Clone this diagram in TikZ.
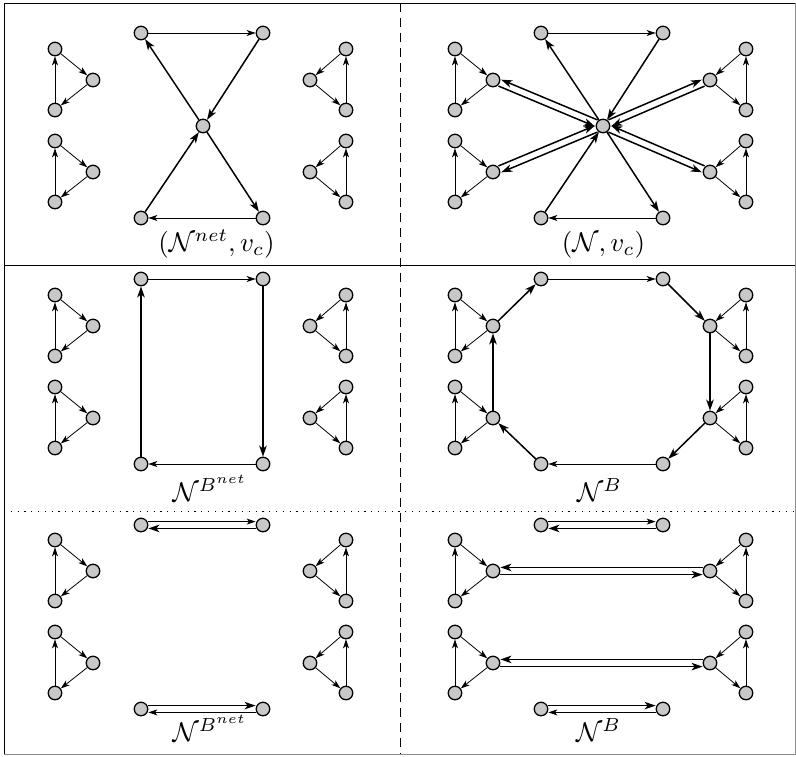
\documentclass[tikz,border=0pt]{standalone}
\usetikzlibrary{arrows.meta}
\begin{document}
\begin{tikzpicture}[
  x=1pt, y=-1pt,
  vtx/.style={circle, draw=black, line width=1.3pt, fill={rgb,255:red,200;green,200;blue,200}, inner sep=0pt, minimum size=13.5pt},
  thinarr/.style={line width=0.8pt, -{Stealth[length=9pt,width=6pt,inset=2.5pt]}},
  thickarr/.style={line width=1.5pt, -{Stealth[length=11pt,width=7.5pt,inset=3pt]}},
  lab/.style={anchor=base, inner sep=0pt},
  lefttri/.pic={
    \node[vtx] (-t) at (0,0) {};
    \node[vtx] (-r) at (38,31) {};
    \node[vtx] (-b) at (0,61) {};
    \draw[thinarr] (-b) -- (-t);
    \draw[thinarr] (-t) -- (-r);
    \draw[thinarr] (-r) -- (-b);
  },
  righttri/.pic={
    \node[vtx] (-t) at (0,0) {};
    \node[vtx] (-l) at (-36,31) {};
    \node[vtx] (-b) at (0,61) {};
    \draw[thinarr] (-b) -- (-t);
    \draw[thinarr] (-t) -- (-l);
    \draw[thinarr] (-l) -- (-b);
  },
  tris/.pic={
    \pic (-L1) at (55,49) {lefttri};
    \pic (-L2) at (55,141) {lefttri};
    \pic (-R1) at (346,49) {righttri};
    \pic (-R2) at (346,141) {righttri};
  }
]
\useasboundingbox (0,0) rectangle (796,756);

% frame
\draw[line width=1pt] (4,3) -- (795,3);
\draw[line width=1pt] (4,3) -- (4,754);
\draw[line width=1pt, black!45] (4,754) -- (795,754) -- (795,3);
\draw[line width=0.9pt] (4,265) -- (795,265);
\draw[line width=0.9pt, dash pattern=on 1.2pt off 5.6pt] (4,511) -- (795,511);
\draw[line width=0.9pt, dash pattern=on 9pt off 6pt] (400,3) -- (400,754);

% ---------- Panel A ----------
\begin{scope}[name prefix=a-]
  \pic (T) at (0,0) {tris};
  \node[vtx] (tl) at (141,33) {};
  \node[vtx] (tr) at (263,33) {};
  \node[vtx] (c)  at (203,126) {};
  \node[vtx] (bl) at (141,218) {};
  \node[vtx] (br) at (263,218) {};
  \draw[thinarr] (tl) -- (tr);
  \draw[thickarr] (tr) -- (c);
  \draw[thickarr] (c) -- (tl);
  \draw[thickarr] (bl) -- (c);
  \draw[thickarr] (c) -- (br);
  \draw[thinarr] (br) -- (bl);
  \node[lab] (lab) at (216.5,251) {\scalebox{2.7}{$(\mathcal{N}^{net},v_c)$}};
\end{scope}

% ---------- Panel B ----------
\begin{scope}[shift={(400,0)}, name prefix=b-]
  \pic (T) at (0,0) {tris};
  \node[vtx] (tl) at (141,33) {};
  \node[vtx] (tr) at (263,33) {};
  \node[vtx] (c)  at (203,126) {};
  \node[vtx] (bl) at (141,218) {};
  \node[vtx] (br) at (263,218) {};
  \draw[thinarr] (tl) -- (tr);
  \draw[thickarr] (tr) -- (c);
  \draw[thickarr] (c) -- (tl);
  \draw[thickarr] (bl) -- (c);
  \draw[thickarr] (c) -- (br);
  \draw[thinarr] (br) -- (bl);
  % double links
  \draw[thickarr, transform canvas={xshift=1.35pt, yshift=3.2pt}] (c) -- (T-L1-r);
  \draw[thickarr, transform canvas={xshift=-1.35pt, yshift=-3.2pt}] (T-L1-r) -- (c);
  \draw[thickarr, transform canvas={xshift=1.35pt, yshift=-3.2pt}] (c) -- (T-L2-r);
  \draw[thickarr, transform canvas={xshift=-1.35pt, yshift=3.2pt}] (T-L2-r) -- (c);
  \draw[thickarr, transform canvas={xshift=-1.38pt, yshift=3.2pt}] (c) -- (T-R1-l);
  \draw[thickarr, transform canvas={xshift=1.38pt, yshift=-3.2pt}] (T-R1-l) -- (c);
  \draw[thickarr, transform canvas={xshift=-1.38pt, yshift=-3.2pt}] (c) -- (T-R2-l);
  \draw[thickarr, transform canvas={xshift=1.38pt, yshift=3.2pt}] (T-R2-l) -- (c);
  \node[lab] (lab) at (203.5,251) {\scalebox{2.7}{$(\mathcal{N},v_c)$}};
\end{scope}

% ---------- Panel C ----------
\begin{scope}[shift={(0,246)}, name prefix=c-]
  \pic (T) at (0,0) {tris};
  \node[vtx] (tl) at (141,33) {};
  \node[vtx] (tr) at (263,33) {};
  \node[vtx] (bl) at (141,218) {};
  \node[vtx] (br) at (263,218) {};
  \draw[thinarr] (tl) -- (tr);
  \draw[thickarr] (tr) -- (br);
  \draw[thinarr] (br) -- (bl);
  \draw[thickarr] (bl) -- (tl);
  \node[lab] (lab) at (210,255) {\scalebox{2.7}{$\mathcal{N}^{B^{net}}$}};
\end{scope}

% ---------- Panel D ----------
\begin{scope}[shift={(400,246)}, name prefix=d-]
  \pic (T) at (0,0) {tris};
  \node[vtx] (tl) at (141,33) {};
  \node[vtx] (tr) at (263,33) {};
  \node[vtx] (bl) at (141,218) {};
  \node[vtx] (br) at (263,218) {};
  \draw[thinarr] (tl) -- (tr);
  \draw[thickarr] (tr) -- (T-R1-l);
  \draw[thickarr] (T-R1-l) -- (T-R2-l);
  \draw[thickarr] (T-R2-l) -- (br);
  \draw[thinarr] (br) -- (bl);
  \draw[thickarr] (bl) -- (T-L2-r);
  \draw[thickarr] (T-L2-r) -- (T-L1-r);
  \draw[thickarr] (T-L1-r) -- (tl);
  \node[lab] (lab) at (199.5,255) {\scalebox{2.7}{$\mathcal{N}^{B}$}};
\end{scope}

% ---------- Panel E ----------
\begin{scope}[shift={(0,491)}, name prefix=e-]
  \pic (T) at (0,0) {tris};
  \node[vtx] (tl) at (141,34) {};
  \node[vtx] (tr) at (263,34) {};
  \node[vtx] (bl) at (141,218) {};
  \node[vtx] (br) at (263,218) {};
  \draw[thinarr, transform canvas={yshift=3.4pt}] (tl) -- (tr);
  \draw[thickarr, transform canvas={yshift=-3.4pt}] (tr) -- (tl);
  \draw[thickarr, transform canvas={yshift=3.4pt}] (bl) -- (br);
  \draw[thinarr, transform canvas={yshift=-3.4pt}] (br) -- (bl);
  \node[lab] (lab) at (210,250) {\scalebox{2.7}{$\mathcal{N}^{B^{net}}$}};
\end{scope}

% ---------- Panel F ----------
\begin{scope}[shift={(400,491)}, name prefix=f-]
  \pic (T) at (0,0) {tris};
  \node[vtx] (tl) at (141,34) {};
  \node[vtx] (tr) at (263,34) {};
  \node[vtx] (bl) at (141,218) {};
  \node[vtx] (br) at (263,218) {};
  \draw[thinarr, transform canvas={yshift=3.4pt}] (tl) -- (tr);
  \draw[thickarr, transform canvas={yshift=-3.4pt}] (tr) -- (tl);
  \draw[thickarr, transform canvas={yshift=3.6pt}] (T-R1-l) -- (T-L1-r);
  \draw[thickarr, transform canvas={yshift=-3.6pt}] (T-L1-r) -- (T-R1-l);
  \draw[thickarr, transform canvas={yshift=3.6pt}] (T-R2-l) -- (T-L2-r);
  \draw[thickarr, transform canvas={yshift=-3.6pt}] (T-L2-r) -- (T-R2-l);
  \draw[thickarr, transform canvas={yshift=3.4pt}] (bl) -- (br);
  \draw[thinarr, transform canvas={yshift=-3.4pt}] (br) -- (bl);
  \node[lab] (lab) at (198.5,250) {\scalebox{2.7}{$\mathcal{N}^{B}$}};
\end{scope}
\end{tikzpicture}
\end{document}
